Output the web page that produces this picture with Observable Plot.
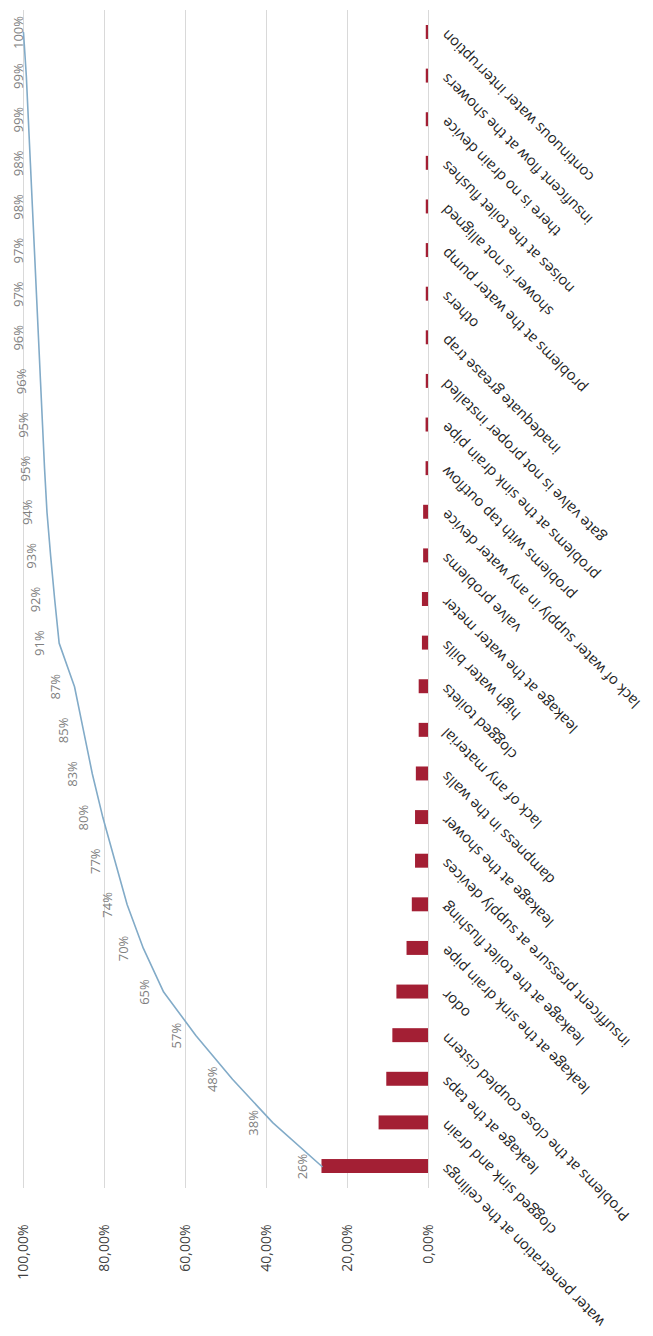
<!DOCTYPE html>
<html>
<head>
<meta charset="utf-8">
<script src="https://cdn.jsdelivr.net/npm/d3@7"></script>
<script src="https://cdn.jsdelivr.net/npm/@observablehq/plot@0.6"></script>
<style>
  html, body { margin: 0; padding: 0; background: #fff; }
  svg { display: block; overflow: visible; }
</style>
</head>
<body>
<div id="chart"></div>
<script>
const categories = [
  "water penetration at the ceilings",
  "clogged sink and drain",
  "leakage at the taps",
  "Problems at the close coupled cistern",
  "odor",
  "leakage at the sink drain pipe",
  "leakage at the toilet flushing",
  "insufficent pressure at supply devices",
  "leakage at the shower",
  "dampness in the walls",
  "lack of any material",
  "clogged toilets",
  "high water bills",
  "leakage at the water meter",
  "valve problems",
  "lack of water supply in any water device",
  "problems with tap outflow",
  "problems at the sink drain pipe",
  "gate valve is not proper installed",
  "inadequate grease trap",
  "others",
  "problems at the water pump",
  "shower is not alligned",
  "noises at the toilet flushes",
  "there is no drain device",
  "insuficent flow at the showers",
  "continuous water interruption"
];
const shares = [
  0.263, 0.122, 0.103, 0.088, 0.078, 0.053, 0.040, 0.032, 0.032, 0.030,
  0.023, 0.023, 0.015, 0.015, 0.012, 0.012, 0.006, 0.006, 0.0055, 0.0055,
  0.0055, 0.0055, 0.0055, 0.0055, 0.0055, 0.0055, 0.0055
];
const cumulative = [
  0.263, 0.384, 0.484, 0.574, 0.654, 0.704, 0.744, 0.774, 0.804, 0.830,
  0.852, 0.874, 0.912, 0.923, 0.933, 0.942, 0.948, 0.953, 0.958, 0.963,
  0.968, 0.973, 0.978, 0.983, 0.988, 0.993, 1.000
];
const axisTicks = [0, 0.2, 0.4, 0.6, 0.8, 1.0];

const data = categories.map((cat, i) => ({cat, share: shares[i], cum: cumulative[i]}));

const fmtAxis = d => (d * 100).toFixed(2).replace(".", ",") + "%";
const fmtLabel = d => Math.round(d * 100) + "%";
const labelMax = 0.965; // data labels are kept inside the chart area

const font = "'Open Sans', Lato, sans-serif";

const chart = Plot.plot({
  width: 653,
  height: 1336,
  marginLeft: 23,
  marginRight: 225,
  marginTop: 10,
  marginBottom: 148,
  style: {fontFamily: font, background: "#fff"},
  x: {domain: [0, 1], reverse: true},
  y: {domain: categories, reverse: true, paddingInner: 0.68, paddingOuter: 0.344, round: false, axis: null},
  marks: [
    Plot.gridX(axisTicks, {stroke: "#d9d9d9", strokeOpacity: 1, strokeWidth: 1}),
    Plot.axisX({
      anchor: "bottom",
      ticks: axisTicks,
      tickFormat: fmtAxis,
      tickRotate: -90,
      tickSize: 0,
      tickPadding: 36,
      fontSize: 14,
      fill: "#404040",
      label: null
    }),
    Plot.barX(data, {x: "share", y: "cat", fill: "#a31f34"}),
    Plot.line(data, {x: "cum", y: "cat", stroke: "#82abc8", strokeWidth: 1.6}),
    Plot.text(data, {
      x: d => Math.min(d.cum, labelMax),
      y: "cat",
      text: d => fmtLabel(d.cum),
      rotate: -90,
      dx: -15,
      lineAnchor: "bottom",
      textAnchor: "middle",
      fill: "#7f7f7f",
      fontSize: 13
    }),
    Plot.text(data, {
      y: "cat",
      frameAnchor: "right",
      text: "cat",
      rotate: 225,
      textAnchor: "end",
      lineAnchor: "middle",
      dx: 16,
      fill: "#1f1f1f",
      fontSize: 14.8
    })
  ]
});
document.getElementById("chart").appendChild(chart);
</script>
</body>
</html>
